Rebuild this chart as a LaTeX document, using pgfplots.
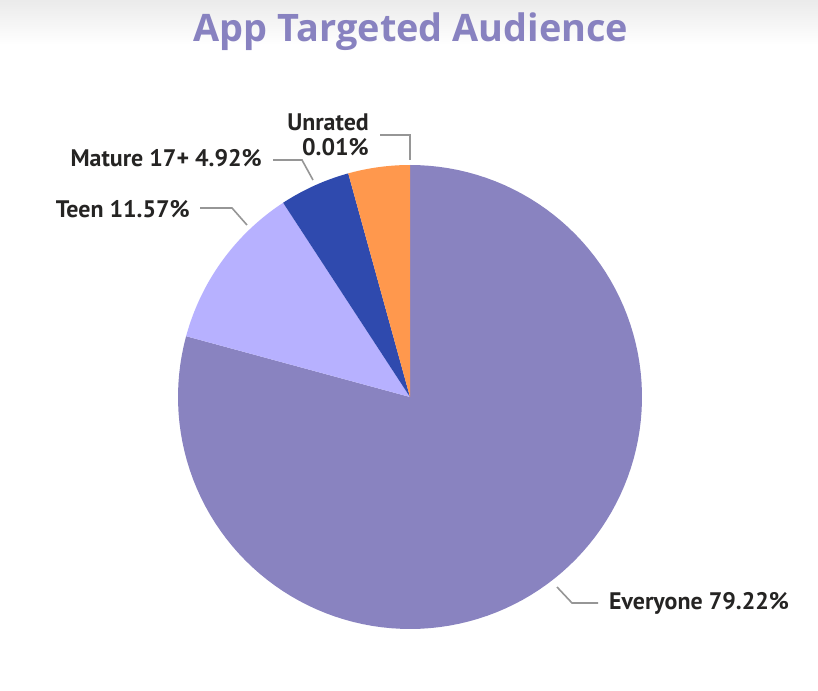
\documentclass[border=0pt]{standalone}
\usepackage{fontspec}
\setmainfont{PT Sans}
\newfontfamily\titlefont{Open Sans}
\usepackage{pgfplots}
\pgfplotsset{compat=1.18}
\definecolor{cEvery}{RGB}{137,131,192}
\definecolor{cTeen}{RGB}{183,177,255}
\definecolor{cMature}{RGB}{47,74,174}
\definecolor{cUnrated}{RGB}{255,152,77}
\definecolor{cTitle}{RGB}{136,130,192}
\definecolor{cText}{RGB}{37,36,35}
\definecolor{cLine}{RGB}{150,150,150}
% slice shares (percent of the drawn pie)
\def\vEvery{79.22}
\def\vTeen{11.57}
\def\vMature{4.92}
\def\vUnrated{4.29}
\pgfmathsetmacro{\aA}{90}
\pgfmathsetmacro{\aB}{\aA-3.6*\vEvery}
\pgfmathsetmacro{\aC}{\aB-3.6*\vTeen}
\pgfmathsetmacro{\aD}{\aC-3.6*\vMature}
\pgfmathsetmacro{\aE}{\aD-3.6*\vUnrated}
\begin{document}
\begin{tikzpicture}
\fill[white] (0bp,0bp) rectangle (818bp,691bp);
\shade[top color=black!8, bottom color=white] (0bp,646bp) rectangle (818bp,691bp);
\begin{axis}[at={(410bp,294bp)}, anchor=origin, scale only axis,
  width=464bp, height=464bp, xmin=-1, xmax=1, ymin=-1, ymax=1,
  hide axis, clip=false]
\addplot[fill=cEvery, draw=none, domain=\aB:\aA, samples=120, variable=\t] ({cos(\t)},{sin(\t)}) -- (axis cs:0,0) -- cycle;
\addplot[fill=cTeen, draw=none, domain=\aC:\aB, samples=40, variable=\t] ({cos(\t)},{sin(\t)}) -- (axis cs:0,0) -- cycle;
\addplot[fill=cMature, draw=none, domain=\aD:\aC, samples=20, variable=\t] ({cos(\t)},{sin(\t)}) -- (axis cs:0,0) -- cycle;
\addplot[fill=cUnrated, draw=none, domain=\aE:\aD, samples=20, variable=\t] ({cos(\t)},{sin(\t)}) -- (axis cs:0,0) -- cycle;
\end{axis}
\begin{scope}[x=1bp,y=1bp]
\node[text=cTitle, font=\titlefont\bfseries\fontsize{38}{44}\selectfont] at (411,659) {App Targeted Audience};
\begin{scope}[font=\bfseries\fontsize{24}{25}\selectfont, text=cText]
\node[anchor=west, inner sep=0] at (609,88) {Everyone 79.22\%};
\node[anchor=east, inner sep=0] at (190,482) {Teen 11.57\%};
\node[anchor=east, inner sep=0] at (262,533) {Mature 17+ 4.92\%};
\node[anchor=east, inner sep=0, align=right] at (369,556) {Unrated\\0.01\%};
\end{scope}
\begin{scope}[draw=cLine, line width=1.6bp]
\draw (557,104) -- (572,88) -- (598,88);
\draw (200,483) -- (232,483) -- (247,466);
\draw (273,531) -- (302,531) -- (313,511);
\draw (380,556) -- (410,556) -- (410,531);
\end{scope}
\end{scope}
\end{tikzpicture}
\end{document}
